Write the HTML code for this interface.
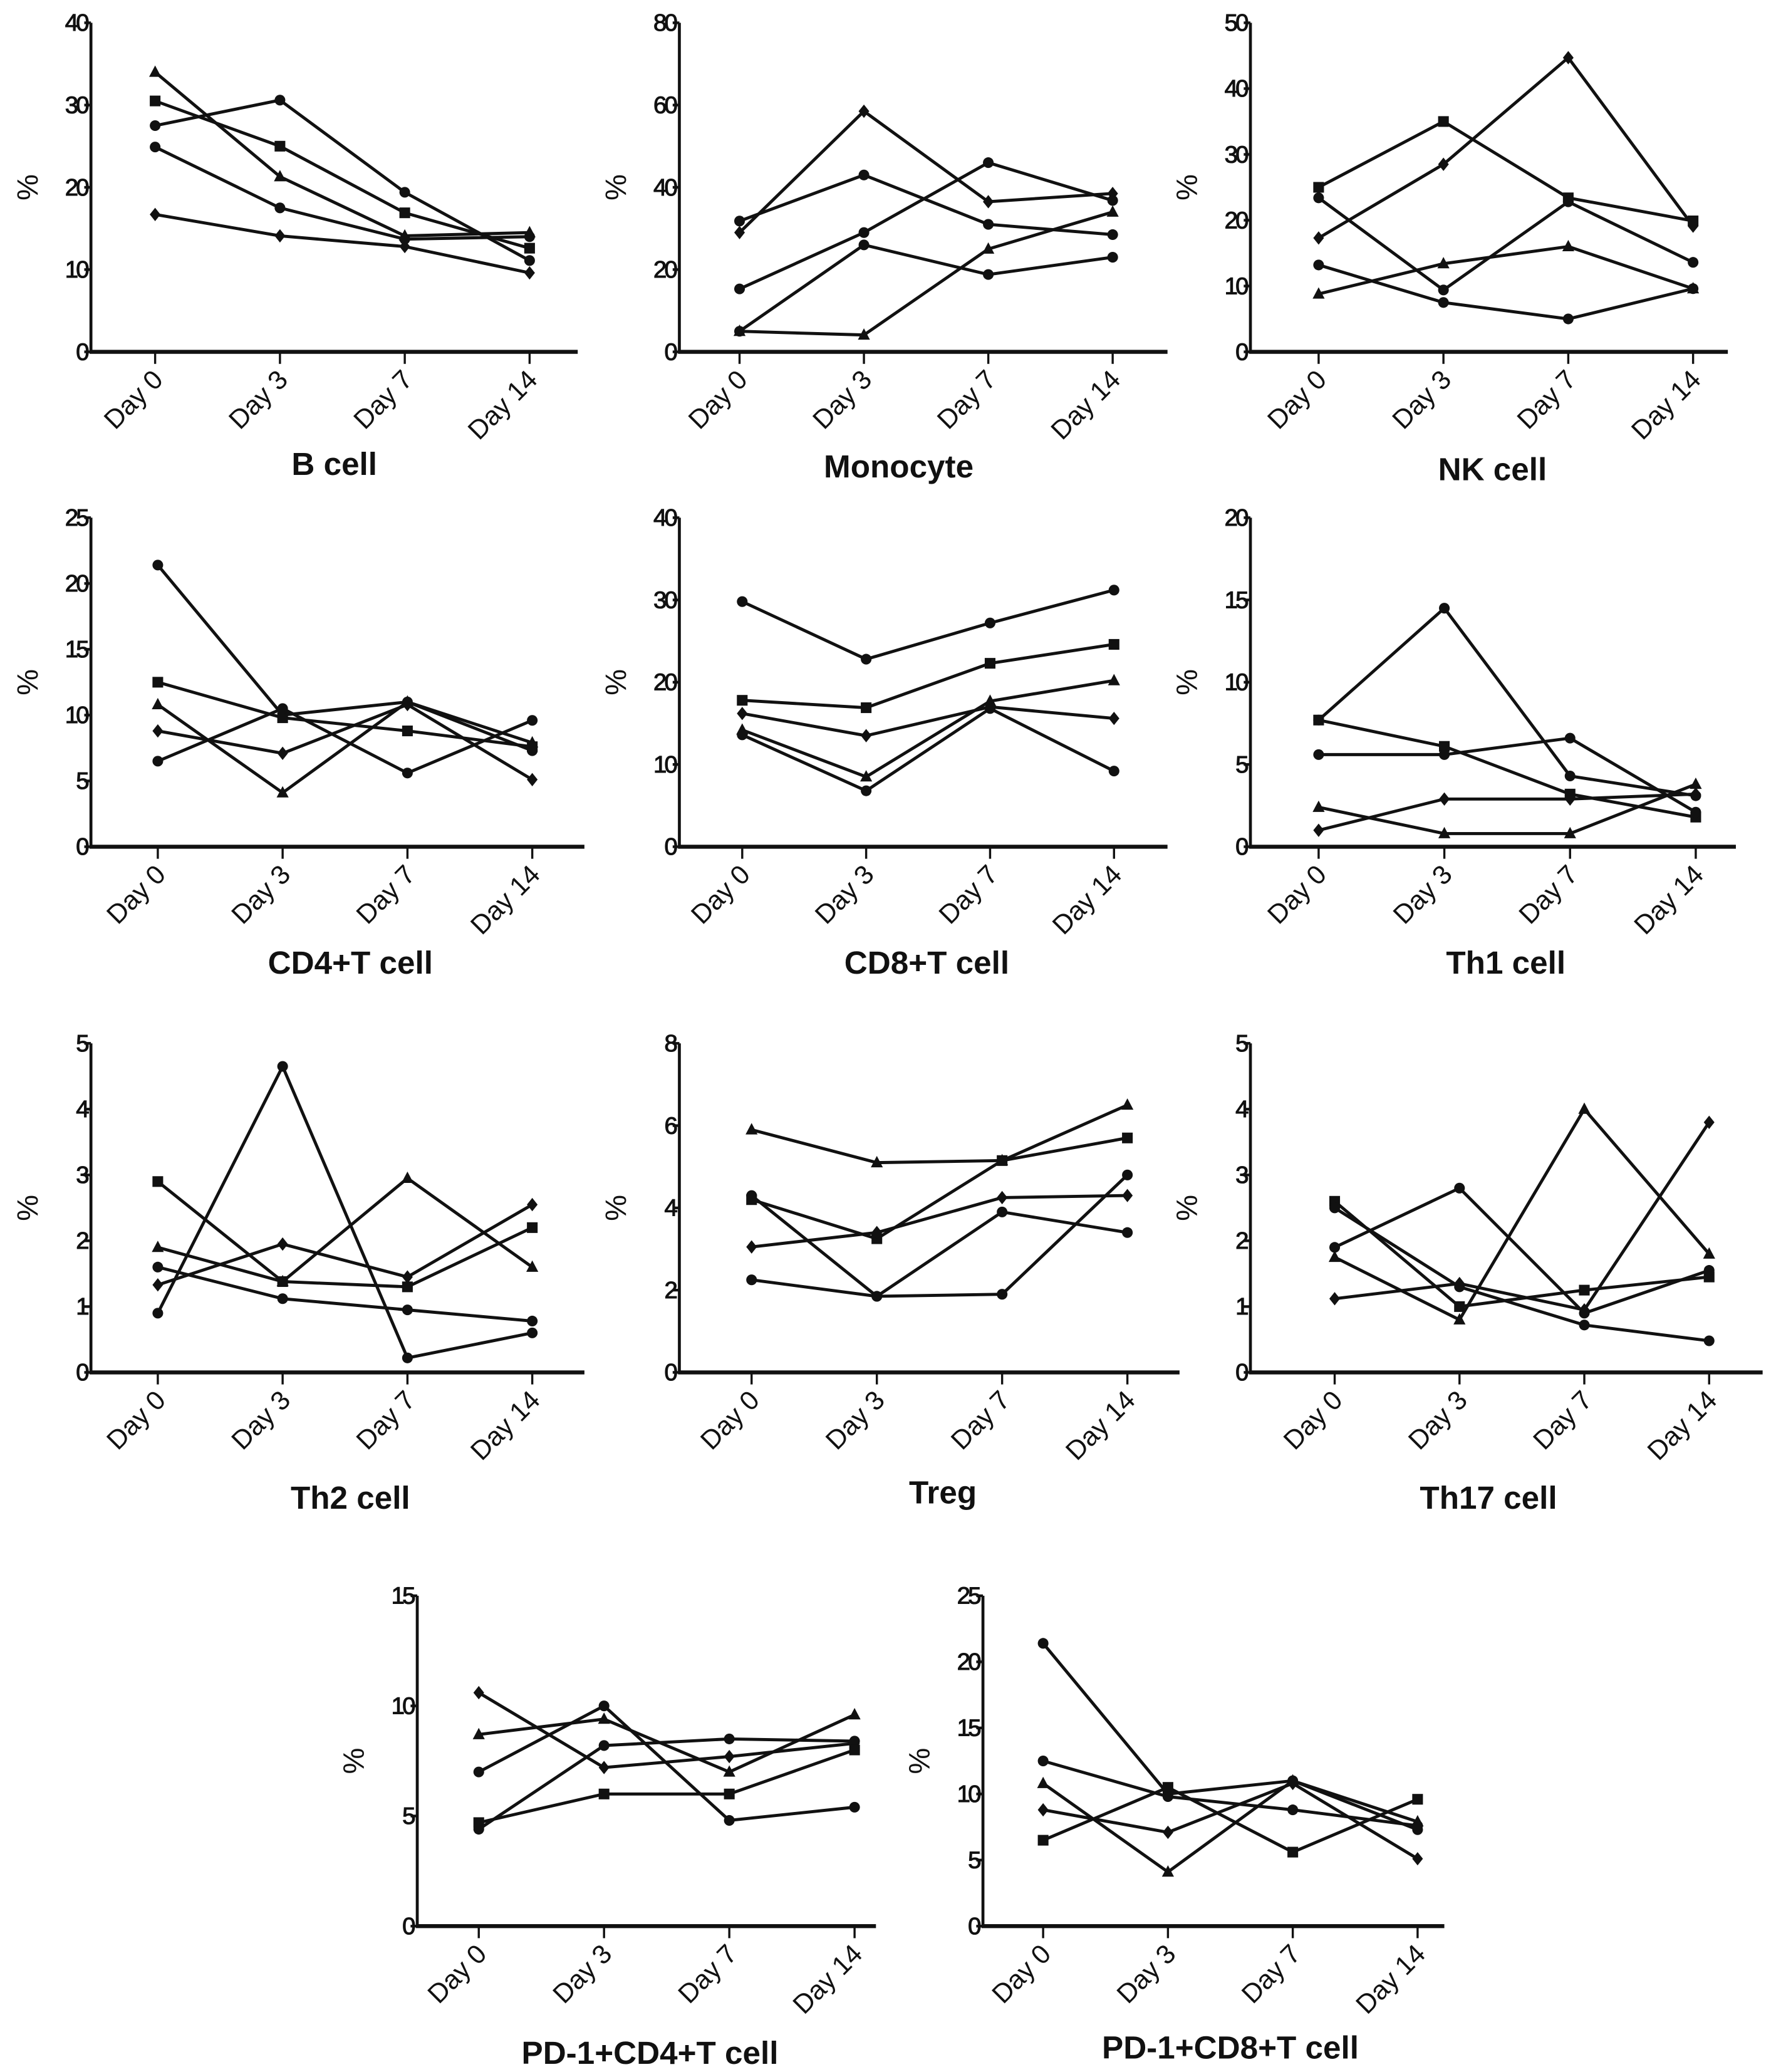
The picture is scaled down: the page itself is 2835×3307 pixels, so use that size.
<!DOCTYPE html>
<html><head><meta charset="utf-8">
<style>
html,body{margin:0;padding:0;background:#fff;}
svg{display:block;}
text{font-family:"Liberation Sans",Arial,sans-serif;fill:#111;}
</style></head>
<body>
<svg id="fig" width="2835" height="3307" viewBox="0 0 1328 1549" xmlns="http://www.w3.org/2000/svg"></svg>
<script>
const categories = ["Day 0","Day 3","Day 7","Day 14"];
const titles = ["B cell","Monocyte","NK cell","CD4+T cell","CD8+T cell","Th1 cell","Th2 cell","Treg","Th17 cell","PD-1+CD4+T cell","PD-1+CD8+T cell"];
const yMax = [40,80,50,25,40,20,5,8,5,15,25];
const yStep = [10,20,10,5,10,5,1,2,1,5,5];
const bCell = {tri:[34,21.3,14.1,14.5],sq:[30.5,25,16.9,12.6],c1:[27.5,30.6,19.4,11.1],c2:[24.9,17.5,13.7,14],dia:[16.7,14.1,12.8,9.6]};
const monocyte = {dia:[29,58.5,36.5,38.5],c1:[31.8,43,31,28.5],c3:[15.3,29,46,36.8],c2:[5,26,18.8,23],tri:[5,4.1,25,34]};
const nkCell = {sq:[25,35,23.4,19.9],dia:[17.3,28.5,44.7,19.1],c1:[23.4,9.4,22.8,13.6],c2:[13.2,7.5,5,9.6],tri:[8.8,13.4,16,9.6]};
const cd4 = {c1:[21.4,10.0,11.0,7.3],sq:[12.5,9.8,8.8,7.6],tri:[10.8,4.1,11.0,7.9],dia:[8.8,7.1,10.8,5.1],c2:[6.5,10.5,5.6,9.6]};
const cd8 = {c1:[29.8,22.8,27.2,31.2],sq:[17.8,16.9,22.3,24.6],dia:[16.2,13.5,17.0,15.6],tri:[14.2,8.5,17.7,20.2],c2:[13.6,6.8,16.8,9.2]};
const th1 = {c1:[7.7,14.5,4.3,3.1],sq:[7.7,6.1,3.2,1.8],c2:[5.6,5.6,6.6,2.1],dia:[1.0,2.9,2.9,3.2],tri:[2.4,0.8,0.8,3.8]};
const th2 = {sq:[2.9,1.38,1.3,2.2],tri:[1.9,1.38,2.95,1.6],dia:[1.33,1.95,1.45,2.55],c1:[0.9,4.65,0.22,0.6],c2:[1.6,1.12,0.95,0.78]};
const treg = {tri:[5.9,5.1,5.15,6.5],sq:[4.2,3.25,5.15,5.7],c1:[4.3,1.85,3.9,3.4],dia:[3.05,3.4,4.25,4.3],c2:[2.25,1.85,1.9,4.8]};
const th17 = {sq:[2.6,1.0,1.25,1.45],c1:[2.5,1.3,0.72,0.48],c2:[1.9,2.8,0.9,1.55],tri:[1.75,0.8,4.0,1.8],dia:[1.12,1.35,0.95,3.8]};
const pd1cd4 = {dia:[10.6,7.2,7.7,8.3],tri:[8.7,9.4,7.0,9.6],c1:[7.0,10.0,4.8,5.4],c2:[4.4,8.2,8.5,8.4],sq:[4.7,6.0,6.0,8.0]};
const pd1cd8 = {c1:[21.4,10.0,11.0,7.3],c2:[12.5,9.8,8.8,7.6],tri:[10.8,4.1,11.0,7.9],dia:[8.8,7.1,10.8,5.1],sq:[6.5,10.5,5.6,9.6]};
const panelData = [bCell,monocyte,nkCell,cd4,cd8,th1,th2,treg,th17,pd1cd4,pd1cd8];

const layout = [
 {ax:68,top:17,bot:263,d0:116,d14:396,xe:432,tx:250,ty:355},
 {ax:508,top:17,bot:263,d0:553,d14:832,xe:873,tx:672,ty:357},
 {ax:935,top:17,bot:263,d0:986,d14:1266,xe:1292,tx:1116,ty:359},
 {ax:68,top:387,bot:633,d0:118,d14:398,xe:437,tx:262,ty:728},
 {ax:508,top:387,bot:633,d0:555,d14:833,xe:873,tx:693,ty:728},
 {ax:935,top:387,bot:633,d0:986,d14:1268,xe:1298,tx:1126,ty:728},
 {ax:68,top:780,bot:1026,d0:118,d14:398,xe:437,tx:262,ty:1128},
 {ax:508,top:780,bot:1026,d0:562,d14:843,xe:882,tx:705,ty:1124},
 {ax:935,top:780,bot:1026,d0:998,d14:1278,xe:1318,tx:1113,ty:1128},
 {ax:312,top:1193,bot:1440,d0:358,d14:639,xe:655,tx:486,ty:1543},
 {ax:735,top:1193,bot:1440,d0:780,d14:1060,xe:1080,tx:920,ty:1539}
];
const NS="http://www.w3.org/2000/svg";
const svg=document.getElementById('fig');
function mk(tag,attrs,parent){const e=document.createElementNS(NS,tag);for(const k in attrs)e.setAttribute(k,attrs[k]);(parent||svg).appendChild(e);return e;}
const seriesNames={tri:'triangle',sq:'square',c1:'circle',c2:'circle-2',c3:'circle-3',dia:'diamond'};

panelData.forEach((data,pi)=>{
  const L=layout[pi];
  const g=mk('g',{});
  
  
  const ys=v=>L.bot-(v/yMax[pi])*(L.bot-L.top);
  const xs=i=>L.d0+i*(L.d14-L.d0)/(categories.length-1);
  const ya=mk('line',{x1:L.ax,y1:L.top,x2:L.ax,y2:L.bot,stroke:'#111','stroke-width':2.2},g);
  
  
  const xa=mk('line',{x1:L.ax-1,y1:L.bot,x2:L.xe,y2:L.bot,stroke:'#111','stroke-width':3},g);
  
  
  for(let v=0;v<=yMax[pi]+1e-9;v+=yStep[pi]){
    const y=ys(v);
    mk('line',{x1:L.ax-5,y1:y,x2:L.ax,y2:y,stroke:'#111','stroke-width':2},g);
    const t=mk('text',{x:L.ax-3,y:y+6,'text-anchor':'end','font-size':18,'letter-spacing':-1.8,stroke:'#111','stroke-width':0.5},g);
    t.textContent=v;
    
    
  }
  categories.forEach((c,i)=>{
    const x=xs(i);
    mk('line',{x1:x,y1:L.bot,x2:x,y2:L.bot+9,stroke:'#111','stroke-width':1.6},g);
    const t=mk('text',{x:x+7,y:L.bot+22,'text-anchor':'end','font-size':20,transform:`rotate(-45 ${x+7} ${L.bot+22})`},g);
    t.textContent=c;
    
    
  });
  const pc=mk('text',{x:L.ax-40,y:(L.top+L.bot)/2,'text-anchor':'middle','font-size':22,transform:`rotate(-90 ${L.ax-40} ${(L.top+L.bot)/2})`},g);
  pc.textContent='%';
  
  
  const tt=mk('text',{x:L.tx,y:L.ty,'text-anchor':'middle','font-size':24,'font-weight':'bold'},g);
  tt.textContent=titles[pi];
  
  
  for(const key in data){
    const vals=data[key];
    const pts=vals.map((v,i)=>xs(i)+','+ys(v)).join(' ');
    const pl=mk('polyline',{points:pts,fill:'none',stroke:'#111','stroke-width':2.3,'stroke-linejoin':'round'},g);
    
    
    vals.forEach((v,i)=>{
      const x=xs(i),y=ys(v);let m;
      if(key==='tri') m=mk('polygon',{points:`${x},${y-5} ${x-4.5},${y+3.5} ${x+4.5},${y+3.5}`,fill:'#111'},g);
      else if(key==='sq') m=mk('rect',{x:x-4,y:y-4,width:8,height:8,fill:'#111'},g);
      else if(key==='dia') m=mk('polygon',{points:`${x},${y-5} ${x+4},${y} ${x},${y+5} ${x-4},${y}`,fill:'#111'},g);
      else m=mk('circle',{cx:x,cy:y,r:4,fill:'#111'},g);
      
      
    });
  }
});
</script>
</body></html>
